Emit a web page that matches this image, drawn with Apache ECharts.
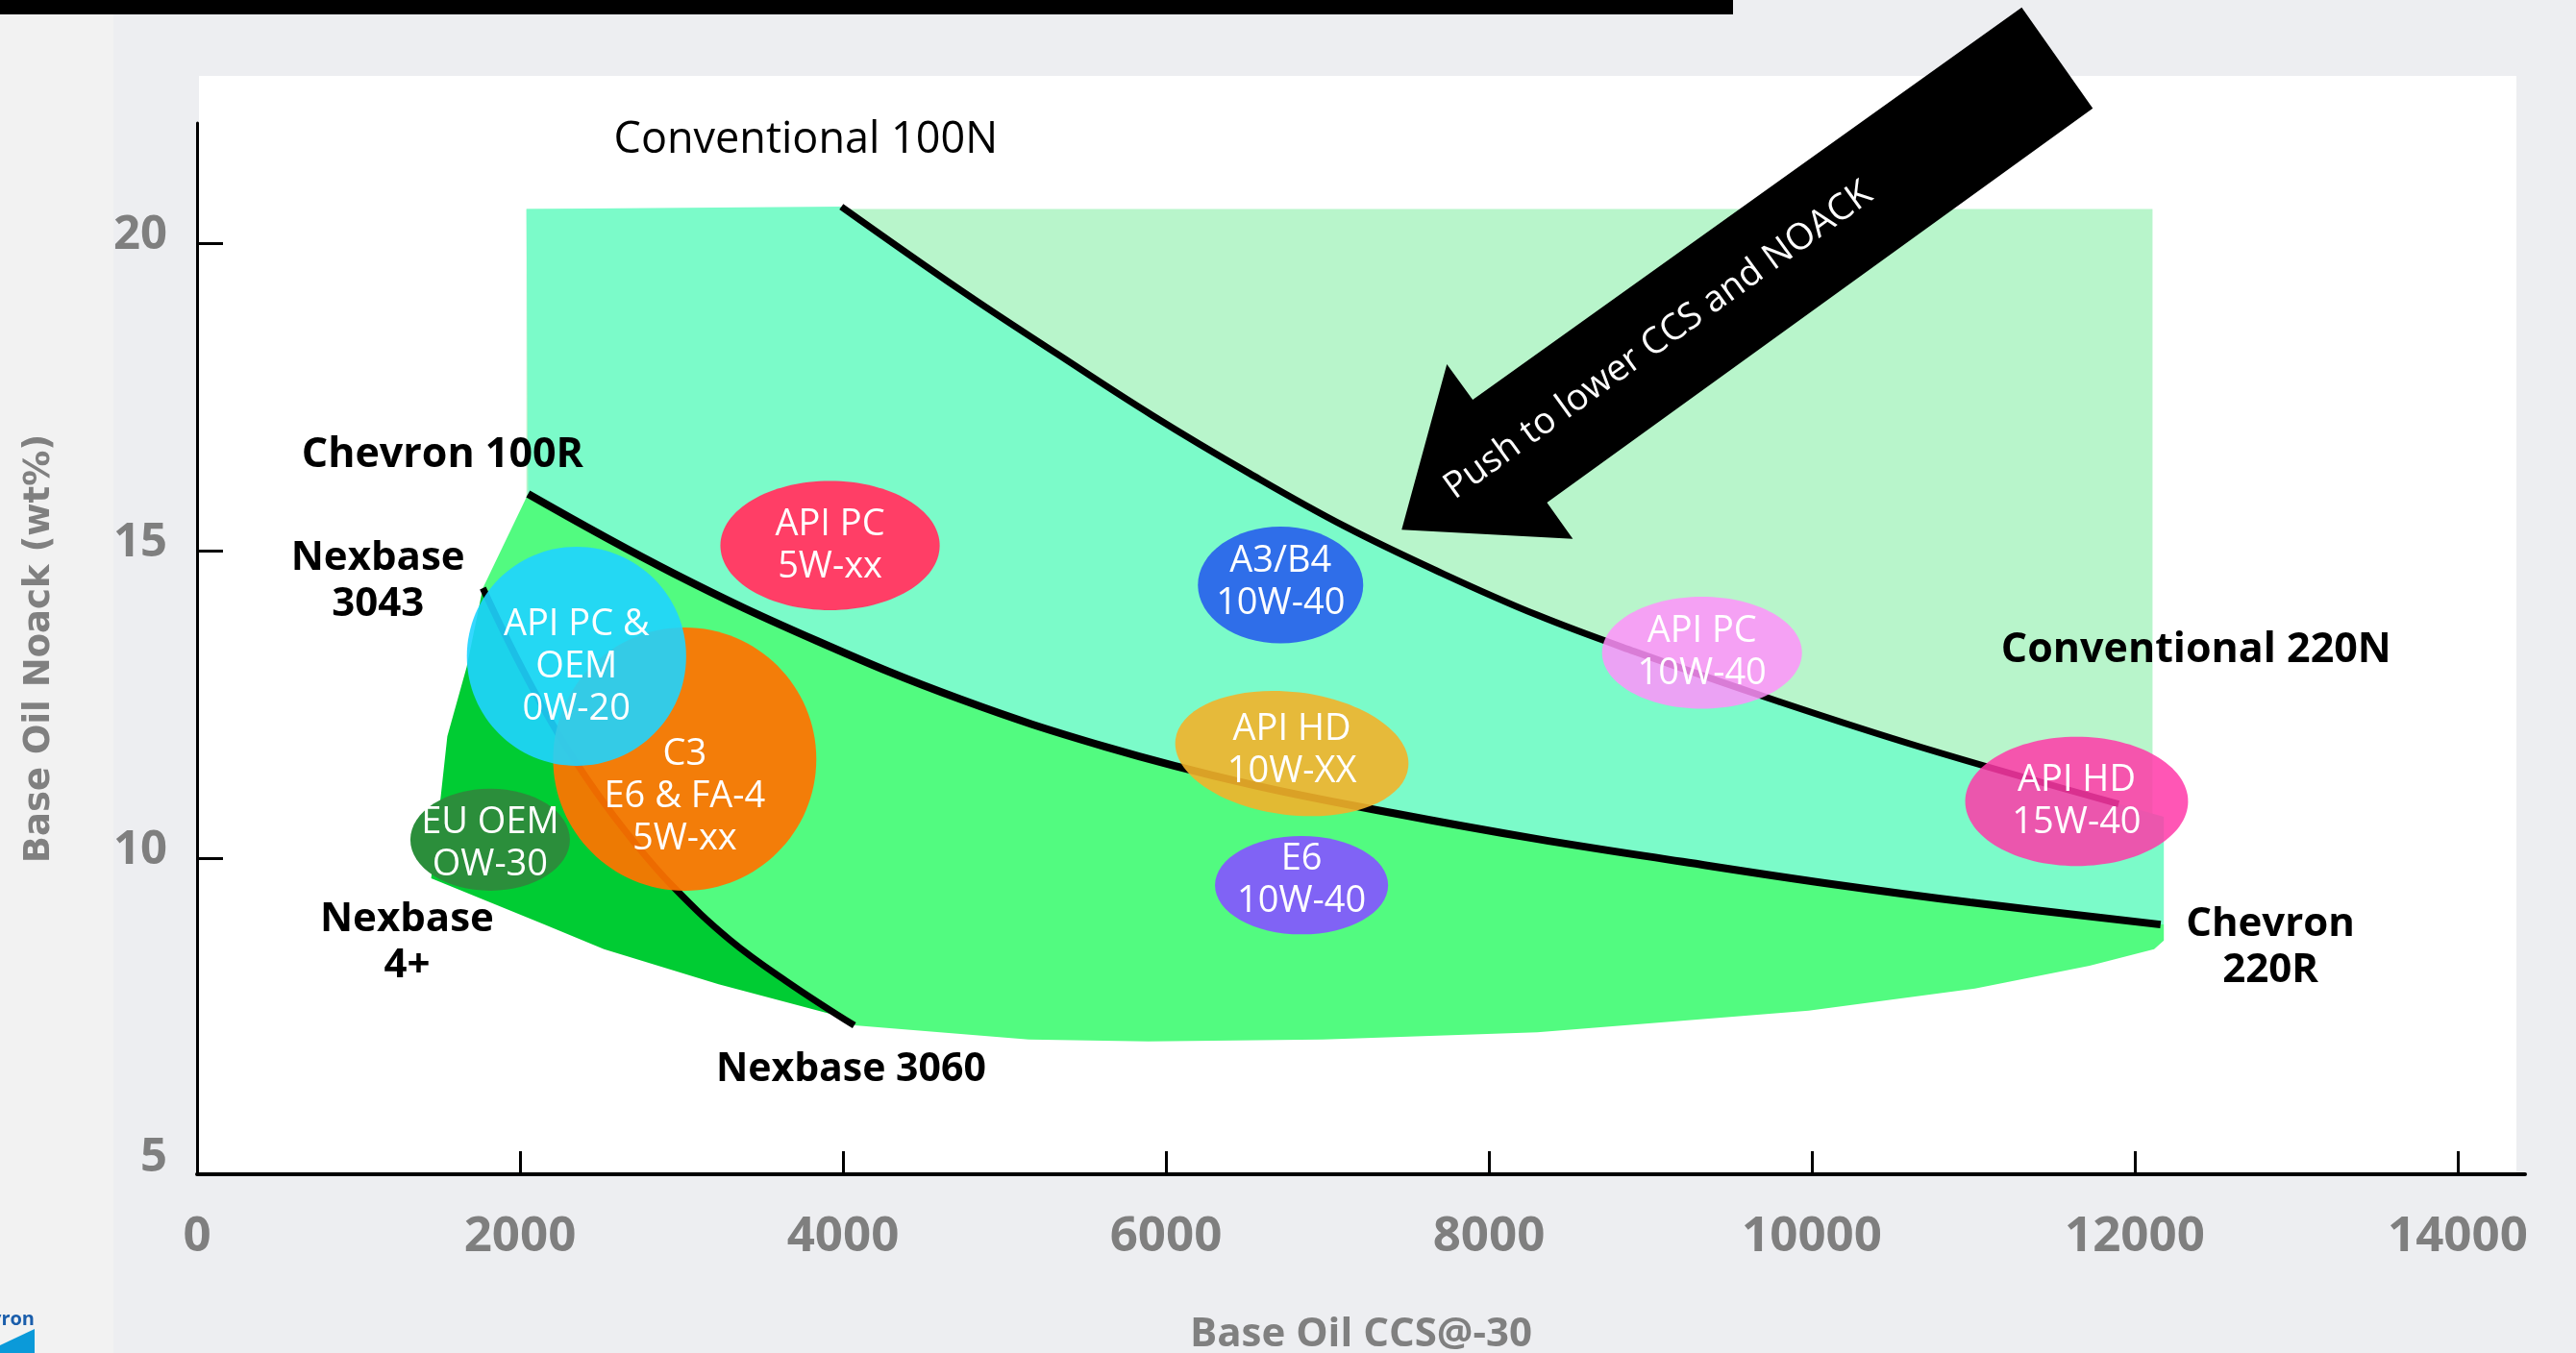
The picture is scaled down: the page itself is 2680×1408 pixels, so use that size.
<!DOCTYPE html>
<html>
<head>
<meta charset="utf-8">
<script src="https://cdn.jsdelivr.net/npm/echarts@6/dist/echarts.min.js"></script>
<style>
html,body{margin:0;padding:0;background:#edeef1;}
#c{width:2680px;height:1408px;}
</style>
</head>
<body>
<div id="c"></div>
<script>
// ---------- axis ticks ----------
const xTickValues = [0, 2000, 4000, 6000, 8000, 10000, 12000, 14000];
const xTickMarks = [2000, 4000, 6000, 8000, 10000, 12000, 14000];
const yTickValues = [5, 10, 15, 20];
const yTickMarks = [10, 15, 20];

// ---------- boundary curves (Base Oil CCS@-30, Noack wt%) ----------
const conv100N_ccs   = [3990, 4730, 5330, 5920, 6520, 7110, 7710, 8300, 8900, 9790, 10680, 11900];
const conv100N_noack = [20.59, 19.23, 18.19, 17.19, 16.25, 15.39, 14.63, 13.95, 13.36, 12.55, 11.80, 10.88];

const chevron_ccs   = [2050, 2950, 3840, 4730, 5625, 6520, 7410, 8300, 9200, 10090, 10980, 12160];
const chevron_noack = [15.92, 14.63, 13.53, 12.58, 11.81, 11.20, 10.73, 10.31, 9.94, 9.59, 9.28, 8.92];

const nexbase3060_ccs   = [1770, 1990, 2230, 2470, 2710, 2950, 3300, 3660, 4070];
const nexbase3060_noack = [14.39, 13.20, 12.05, 11.08, 10.25, 9.53, 8.67, 7.98, 7.28];

// ---------- region outlines ----------
const convRange_ccs   = [2040, 12110, 12110, 2040];
const convRange_noack = [20.55, 20.55, 9.90, 9.90];

const tealCorner_ccs   = [2040];
const tealCorner_noack = [20.55];
const tealRight_ccs    = [12180, 12180];
const tealRight_noack  = [10.67, 8.92];

const greenBottom_ccs   = [12180, 12180, 12120, 11720, 11010, 9980, 8300, 6970, 5890, 5150];
const greenBottom_noack = [8.92, 8.66, 8.52, 8.25, 7.88, 7.52, 7.17, 7.05, 7.02, 7.05];

const darkBottom_ccs   = [3920, 3230, 2520, 2150, 1450, 1510, 1550, 1670];
const darkBottom_noack = [7.47, 7.95, 8.52, 8.92, 9.67, 11.02, 11.98, 13.11];

// ---------- performance category bubbles ----------
const ellLabels = ['API PC\n5W-xx', 'C3\nE6 & FA-4\n5W-xx', 'API PC &\nOEM\n0W-20', 'EU OEM\nOW-30',
                   'A3/B4\n10W-40', 'API HD\n10W-XX', 'E6\n10W-40', 'API PC\n10W-40', 'API HD\n15W-40'];
const ellCcs       = [3920, 3020, 2350, 1815, 6710, 6780, 6840, 9320, 11640];
const ellNoack     = [15.08, 11.61, 13.28, 10.30, 14.44, 11.70, 9.56, 13.34, 10.92];
const ellCcsHalf   = [679, 815, 679, 494, 512, 726, 536, 619, 690];
const ellNoackHalf = [1.05, 2.14, 1.78, 0.83, 0.95, 1.00, 0.80, 0.91, 1.05];

// ---------- annotations ----------
const annoTexts = ['Conventional 100N', 'Chevron 100R', 'Nexbase\n3043', 'Nexbase\n4+',
                   'Nexbase 3060', 'Conventional 220N', 'Chevron\n220R'];
const annoCcs   = [3770, 1520, 1120, 1300, 4050, 12380, 12840];
const annoNoack = [21.66, 16.55, 14.50, 8.63, 6.55, 13.38, 8.55];

const arrow_ccs   = [11300, 11740, 8360, 8520, 7460, 7740, 7900];
const arrow_noack = [23.83, 22.19, 15.78, 15.19, 15.34, 18.03, 17.45];
const arrowText = 'Push to lower CCS and NOACK';
const arrowTextCcs = [9050];
const arrowTextNoack = [18.41];

// ---------- styles ----------
const ellColors   = ['#ff3e66', '#ff7300', '#1fd4ff', '#2b8e3b', '#2f6ee9', '#f2b32a', '#8063f5', '#ff92fc', '#ff38a8'];
const ellOpacity  = [1, 0.93, 0.9, 1, 1, 0.9, 1, 0.85, 0.85];
const ellRotation = [0, 0, 0, 0, 0, -0.12, 0, 0, 0];
const ellTextDy   = [0, 39, 11, 4, -3, -3, -5, 0, 0];
const annoWeights = ['normal', 'bold', 'bold', 'bold', 'bold', 'bold', 'bold'];
const annoSizes   = [45, 43, 42, 42, 41, 43, 42];

const FONT = '"Open Sans", "DejaVu Sans", sans-serif';

function pts(xs, ys) { return xs.map((x, i) => [x, ys[i]]); }
function rev(a) { return a.slice().reverse(); }

const regions = [
  { name: 'Conventional range', points: pts(convRange_ccs, convRange_noack), color: '#b8f5cb', z: 1 },
  { name: 'Chevron 100R-220R range',
    points: [].concat(pts(tealCorner_ccs, tealCorner_noack), pts(conv100N_ccs, conv100N_noack),
                      pts(tealRight_ccs, tealRight_noack), rev(pts(chevron_ccs, chevron_noack))),
    color: '#7bfbc9', z: 2 },
  { name: 'Nexbase range',
    points: [].concat(pts(chevron_ccs, chevron_noack), pts(greenBottom_ccs, greenBottom_noack),
                      rev(pts(nexbase3060_ccs, nexbase3060_noack))),
    color: '#52fb80', z: 3 },
  { name: 'Nexbase 4+ range',
    points: [].concat(pts(nexbase3060_ccs, nexbase3060_noack), pts(darkBottom_ccs, darkBottom_noack)),
    color: '#00cc33', z: 4 }
];

const series = [];
regions.forEach(r => {
  series.push({
    type: 'custom', name: r.name, coordinateSystem: 'cartesian2d', silent: true, z: r.z,
    data: [r.points[0]],
    renderItem: (params, api) => ({
      type: 'polygon',
      shape: { points: r.points.map(p => api.coord(p)) },
      style: { fill: r.color }
    })
  });
});

[[conv100N_ccs, conv100N_noack, 7, 'Conventional 100N'],
 [chevron_ccs, chevron_noack, 8, 'Chevron 100R-220R'],
 [nexbase3060_ccs, nexbase3060_noack, 7, 'Nexbase 3060']].forEach(([xs, ys, w, n]) => {
  series.push({
    type: 'line', name: n, data: pts(xs, ys), smooth: 0.4, symbol: 'none', silent: true, z: 5,
    lineStyle: { color: '#000', width: w }
  });
});

series.push({
  type: 'custom', name: 'categories', coordinateSystem: 'cartesian2d', silent: true, z: 6,
  data: pts(ellCcs, ellNoack),
  renderItem: (params, api) => {
    const i = params.dataIndex;
    const c = api.coord([ellCcs[i], ellNoack[i]]);
    const e = api.coord([ellCcs[i] + ellCcsHalf[i], ellNoack[i] + ellNoackHalf[i]]);
    const rx = e[0] - c[0], ry = c[1] - e[1];
    return {
      type: 'group',
      children: [
        { type: 'ellipse', x: c[0], y: c[1], rotation: ellRotation[i],
          shape: { cx: 0, cy: 0, rx: rx, ry: ry },
          style: { fill: ellColors[i], opacity: ellOpacity[i] } },
        { type: 'text', x: c[0], y: c[1] + ellTextDy[i],
          style: { text: ellLabels[i], fill: '#ffffff', fontFamily: FONT, fontSize: 38,
                   align: 'center', verticalAlign: 'middle', lineHeight: 44 } }
      ]
    };
  }
});

series.push({
  type: 'custom', name: 'annotations', coordinateSystem: 'cartesian2d', silent: true, z: 7,
  data: pts(annoCcs, annoNoack),
  renderItem: (params, api) => {
    const i = params.dataIndex;
    const p = api.coord([annoCcs[i], annoNoack[i]]);
    return { type: 'text', x: p[0], y: p[1],
      style: { text: annoTexts[i], fill: '#000', fontFamily: FONT, fontSize: annoSizes[i],
               fontWeight: annoWeights[i], align: 'center', verticalAlign: 'middle', lineHeight: 48 } };
  }
});

series.push({
  type: 'custom', name: 'arrow', coordinateSystem: 'cartesian2d', silent: true, z: 8,
  data: [[arrowTextCcs[0], arrowTextNoack[0]]],
  renderItem: (params, api) => {
    const poly = arrow_ccs.map((x, i) => api.coord([x, arrow_noack[i]]));
    const tailMid = [(poly[0][0] + poly[1][0]) / 2, (poly[0][1] + poly[1][1]) / 2];
    const headMid = [(poly[2][0] + poly[6][0]) / 2, (poly[2][1] + poly[6][1]) / 2];
    const ang = Math.atan2(-(tailMid[1] - headMid[1]), tailMid[0] - headMid[0]);
    const t = api.coord([arrowTextCcs[0], arrowTextNoack[0]]);
    return {
      type: 'group',
      children: [
        { type: 'polygon', shape: { points: poly }, style: { fill: '#000' } },
        { type: 'text', x: t[0], y: t[1], rotation: ang,
          style: { text: arrowText, fill: '#fff', fontFamily: FONT, fontSize: 38,
                   align: 'center', verticalAlign: 'middle' } }
      ]
    };
  }
});

const chart = echarts.init(document.getElementById('c'), null, { renderer: 'canvas', width: 2680, height: 1408 });
chart.setOption({
  animation: false,
  backgroundColor: '#edeef1',
  textStyle: { fontFamily: FONT },
  graphic: [
    { type: 'rect', z: -100, shape: { x: 0, y: 0, width: 118, height: 1408 }, style: { fill: '#f2f2f2' } },
    { type: 'rect', z: -100, shape: { x: 207, y: 79, width: 2411, height: 1143 }, style: { fill: '#ffffff' } },
    { type: 'rect', z: -100, shape: { x: 0, y: 0, width: 1803, height: 15 }, style: { fill: '#000000' } },
    { type: 'text', z: -100, x: 36, y: 1373, style: { text: 'Chevron', fill: '#1b5eab', fontFamily: FONT,
      fontSize: 20, fontWeight: 'bold', align: 'right', verticalAlign: 'middle' } },
    { type: 'polygon', z: -100, shape: { points: [[36, 1383], [36, 1408], [0, 1408], [0, 1400]] },
      style: { fill: '#0b9ad9' } }
  ],
  grid: { left: 205, top: 128, right: 53, bottom: 186, outerBoundsMode: 'none', containLabel: false },
  xAxis: {
    type: 'value', min: 0, max: 14417,
    name: 'Base Oil CCS@-30', nameLocation: 'middle', nameGap: 146,
    nameTextStyle: { color: '#808080', fontWeight: 'bold', fontSize: 42, fontFamily: FONT },
    axisLine: { show: true, lineStyle: { color: '#000', width: 4 } },
    axisTick: { show: true, inside: true, length: 24, customValues: xTickMarks, lineStyle: { color: '#000', width: 3 } },
    axisLabel: { customValues: xTickValues, formatter: v => String(v), color: '#7f7f7f', fontWeight: 'bold',
                 fontSize: 51, margin: 40, fontFamily: FONT },
    splitLine: { show: false }
  },
  yAxis: {
    type: 'value', min: 4.86, max: 21.95,
    name: 'Base Oil Noack (wt%)', nameLocation: 'middle', nameGap: 145, nameRotate: 90,
    nameTextStyle: { color: '#808080', fontWeight: 'bold', fontSize: 37, fontFamily: '"DejaVu Sans", sans-serif' },
    axisLine: { show: true, lineStyle: { color: '#000', width: 3 } },
    axisTick: { show: true, inside: true, length: 27, customValues: yTickMarks, lineStyle: { color: '#000', width: 3 } },
    axisLabel: { customValues: yTickValues, formatter: v => '{t|' + v + '}', margin: 31,
                 rich: { t: { color: '#7f7f7f', fontWeight: 'bold', fontSize: 49, fontFamily: FONT,
                              padding: [0, 0, 16, 0] } } },
    splitLine: { show: false }
  },
  series: series
});
</script>
</body>
</html>
